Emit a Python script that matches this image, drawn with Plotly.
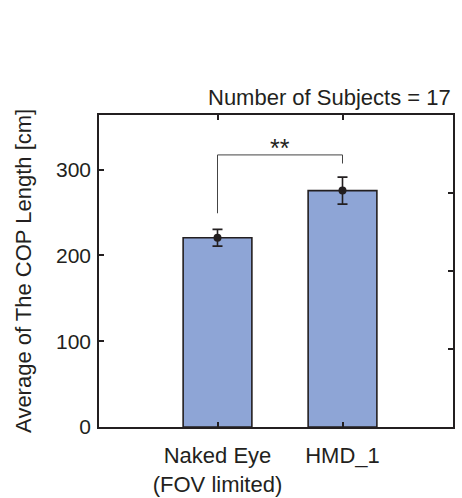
import plotly.graph_objects as go

# ---- data ----
categories = ["Naked Eye<br>(FOV limited)", "HMD_1"]
mean_cop = [220.5, 275.4]
err_cop = [9.8, 15.7]
y_ticks = [0, 100, 200, 300]
subjects = 17
sig_label = "**"
bracket_top = 317
bracket_ends = [249, 307]

FONT = "Liberation Sans, Arial, Helvetica, sans-serif"
TXT = "#231f20"
BAR = "#8ea5d6"

fig = go.Figure()

fig.add_trace(go.Bar(
    x=categories, y=mean_cop, width=0.55,
    marker=dict(color=BAR, line=dict(color=TXT, width=1.6)),
    showlegend=False, hoverinfo="skip",
))
fig.add_trace(go.Scatter(
    x=categories, y=mean_cop, mode="markers",
    marker=dict(color=TXT, size=8),
    error_y=dict(type="data", array=err_cop, color=TXT, thickness=1.6, width=5),
    showlegend=False, hoverinfo="skip",
))
# invisible trace so the right-hand overlay axis is drawn
fig.add_trace(go.Scatter(
    x=categories[:1], y=[0.5], yaxis="y2", mode="markers",
    marker=dict(opacity=0), showlegend=False, hoverinfo="skip",
))

# significance bracket
fig.add_shape(type="line", xref="x", yref="y",
              x0=categories[0], x1=categories[0], y0=bracket_ends[0], y1=bracket_top,
              line=dict(color="#444", width=1))
fig.add_shape(type="line", xref="x", yref="y",
              x0=categories[1], x1=categories[1], y0=bracket_ends[1], y1=bracket_top,
              line=dict(color="#444", width=1))
fig.add_shape(type="line", xref="x", yref="y",
              x0=categories[0], x1=categories[1], y0=bracket_top, y1=bracket_top,
              line=dict(color="#444", width=1))
fig.add_annotation(x=0.5, xref="x", y=bracket_top, yref="y", text=sig_label,
                   showarrow=False, yanchor="bottom", yshift=-9,
                   font=dict(size=25, color=TXT, family=FONT))

fig.add_annotation(x=1, xref="paper", y=1, yref="paper", xanchor="right", yanchor="bottom",
                   text=f"Number of Subjects = {subjects}", showarrow=False, yshift=3,
                   font=dict(size=22, color=TXT, family=FONT))
fig.add_annotation(x=-0.215, xref="paper", y=0.5, yref="paper", xanchor="center", yanchor="middle",
                   text="Average of The COP Length [cm]", textangle=-90, showarrow=False,
                   font=dict(size=22, color=TXT, family=FONT))

fig.update_layout(
    width=462, height=498,
    margin=dict(l=99, r=9, t=115, b=71, autoexpand=False),
    paper_bgcolor="white", plot_bgcolor="white",
    font=dict(family=FONT, size=22, color=TXT),
    xaxis=dict(
        type="category", range=[-0.948, 1.884], automargin=False,
        showline=True, linecolor=TXT, linewidth=1.6, mirror="ticks",
        ticks="inside", ticklen=5, tickwidth=1.6, tickcolor=TXT,
        showgrid=False, zeroline=False, ticklabelstandoff=8,
        tickfont=dict(size=22, color=TXT),
    ),
    yaxis=dict(
        range=[0, 363.5], tickvals=y_ticks, automargin=False,
        showline=True, linecolor=TXT, linewidth=1.6, mirror=True,
        ticks="inside", ticklen=5, tickwidth=1.6, tickcolor=TXT,
        showgrid=False, zeroline=False, ticklabelstandoff=2,
        tickfont=dict(size=21, color=TXT),
    ),
    yaxis2=dict(
        overlaying="y", side="right", range=[0, 1], automargin=False,
        tickvals=[0.25, 0.5, 0.75], showticklabels=False,
        ticks="inside", ticklen=5, tickwidth=1.6, tickcolor=TXT,
        showgrid=False, zeroline=False, showline=False,
    ),
)

fig.write_html("out.html", config={"displayModeBar": False},
               post_script="document.body.style.margin='0';")
